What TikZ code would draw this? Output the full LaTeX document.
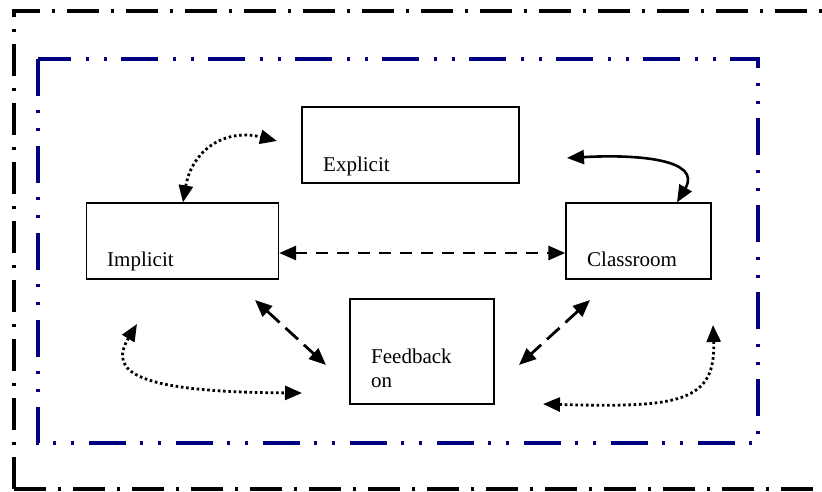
\documentclass[tikz,border=0pt]{standalone}
\usepackage{fontspec}
\setmainfont{Liberation Serif}
\usetikzlibrary{arrows.meta}
\begin{document}
\begin{tikzpicture}[x=1pt, y=-1pt,
  box/.style={draw, line width=1.3pt, minimum width=#1, inner sep=0pt},
  lbl/.style={anchor=base west, inner sep=0pt, font=\fontsize{21pt}{24pt}\selectfont},
  tips/.style={{Triangle[length=17pt,width=14pt]}-{Triangle[length=17pt,width=14pt]}},
  dotline/.style={tips, line width=2.8pt, dash pattern=on 2.6pt off 2.7pt},
  dashline/.style={tips, line width=2.8pt, dash pattern=on 12pt off 9pt},
  longdash/.style={tips, line width=2.8pt, dash pattern=on 17pt off 8pt},
  solidline/.style={tips, line width=2.6pt}]
\useasboundingbox (0,0) rectangle (822,491);
\clip (0,0) rectangle (822,491);
\definecolor{frameblue}{HTML}{000080}
% frames
\draw[line width=3.6pt, dash pattern=on 32pt off 12pt on 3pt off 12pt] (14,489) -- (14,11) -- (840,11);
\draw[line width=3.6pt, dash pattern=on 32pt off 12pt on 3pt off 12pt] (14,489) -- (840,489);
\draw[frameblue, line width=4pt, dash pattern=on 37pt off 14pt on 3pt off 15pt on 3pt off 15pt] (38,59) rectangle (758,443);
% boxes
\node[box=217pt, minimum height=76pt] (explicit) at (410.5,145) {};
\node[box=192pt, minimum height=76pt] (implicit) at (182.5,241) {};
\node[box=145pt, minimum height=76pt] (classroom) at (638.5,241) {};
\node[box=144pt, minimum height=105pt] (feedback) at (422,351.5) {};
\node[lbl] (explicitTxt) at (323,171) {Explicit};
\node[lbl] (implicitTxt) at (107,266) {Implicit};
\node[lbl] (classroomTxt) at (587,266) {Classroom};
\node[lbl] (feedbackTxt) at (371,363) {Feedback};
\node[lbl] (feedbackTxtB) at (371,387) {on};
% free ends
\coordinate (topLeftEnd) at (277,141);
\coordinate (topRightEnd) at (567,158);
\coordinate (diagA) at (255,300);
\coordinate (diagB) at (326,365);
\coordinate (diagC) at (590,300);
\coordinate (diagD) at (519,365);
\coordinate (lowLeftA) at (137,324);
\coordinate (lowLeftB) at (302,393);
\coordinate (lowRightA) at (713,325);
\coordinate (lowRightB) at (543,404);
% connectors
\draw[dotline] ([xshift=0.5pt]implicit.north) .. controls (192,150) and (225,128) .. (topLeftEnd);
\draw[solidline] (topRightEnd) .. controls (640,154) and (702,160) .. ([xshift=38.5pt]classroom.north);
\draw[dashline] ([yshift=-12pt]implicit.east) -- ([yshift=-12pt]classroom.west);
\draw[longdash] (diagA) -- (diagB);
\draw[longdash] (diagC) -- (diagD);
\draw[dotline] (lowLeftA) .. controls (108,372) and (135,392) .. (lowLeftB);
\draw[dotline] (lowRightA) .. controls (716,402) and (680,408) .. (lowRightB);
\end{tikzpicture}
\end{document}
